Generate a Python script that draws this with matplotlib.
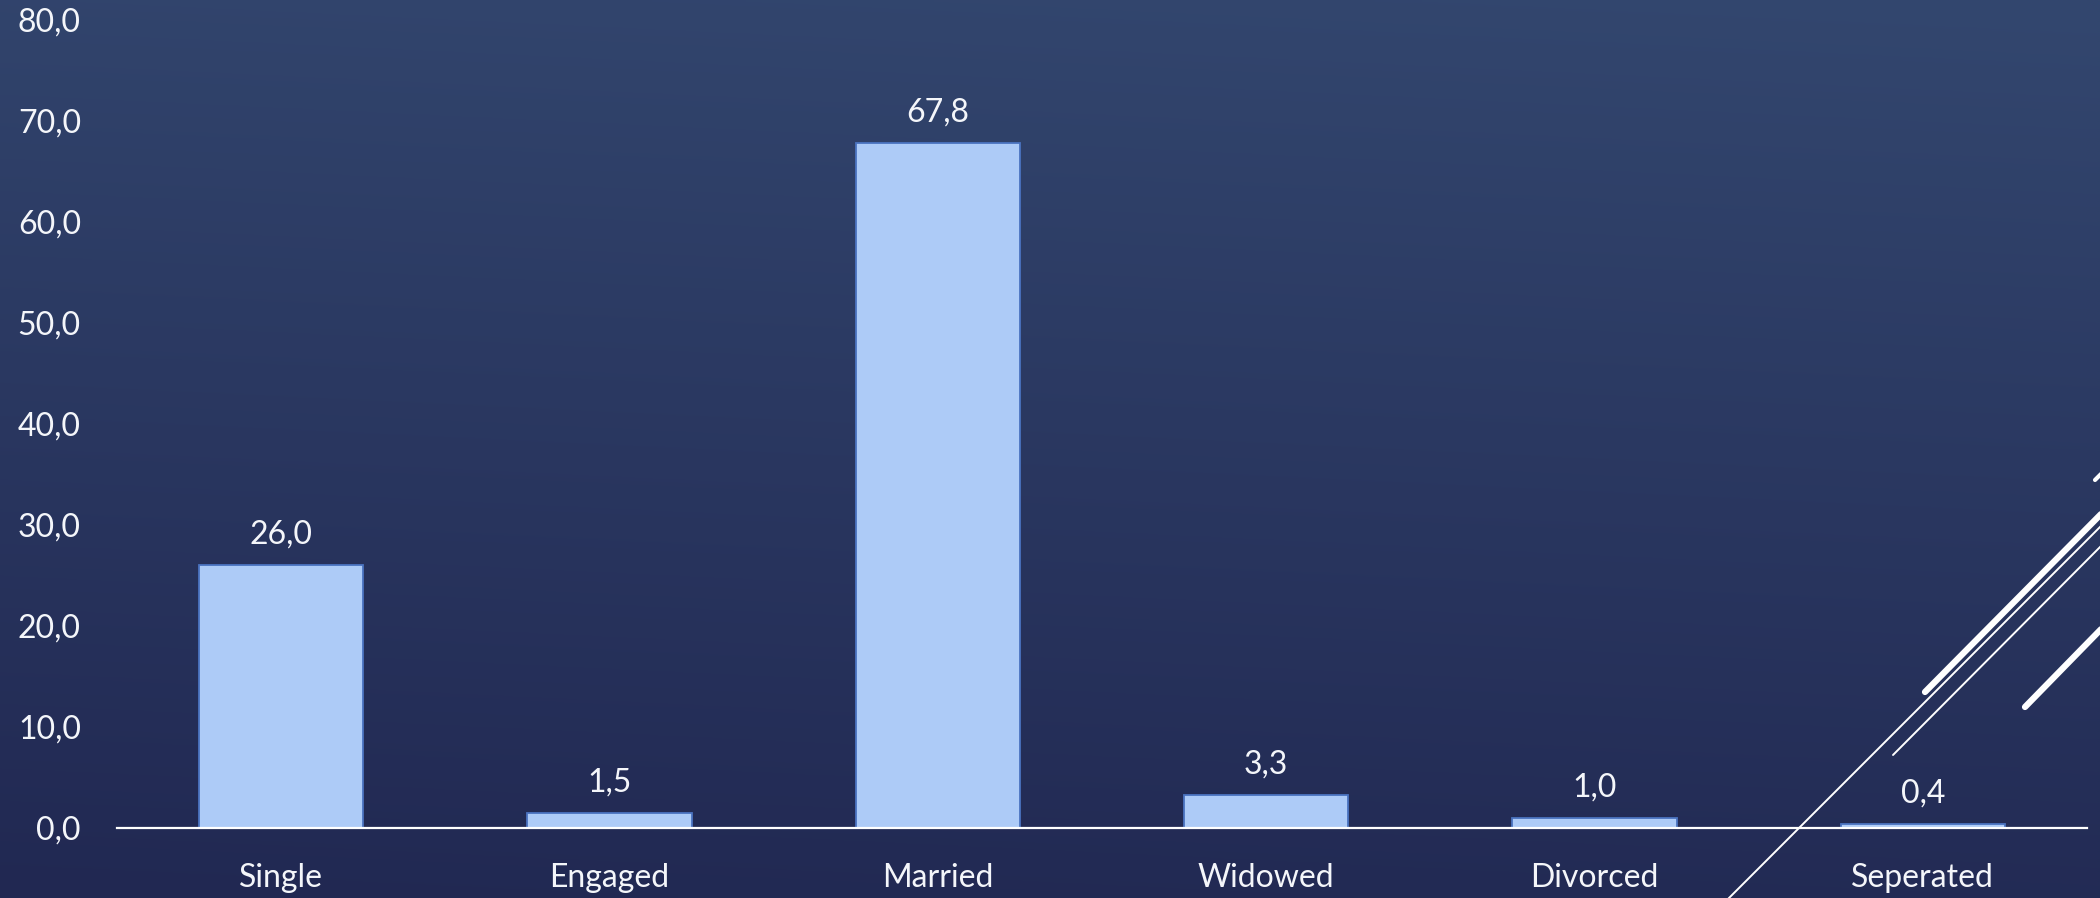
import numpy as np
import matplotlib
matplotlib.use("Agg")
import matplotlib.pyplot as plt
from matplotlib.lines import Line2D

categories = ["Single", "Engaged", "Married", "Widowed", "Divorced", "Seperated"]
values = [26.0, 1.5, 67.8, 3.3, 1.0, 0.4]
yticks = [0, 10, 20, 30, 40, 50, 60, 70, 80]

W, H = 2100, 898
fig = plt.figure(figsize=(W / 100, H / 100), dpi=100)

FONT = ["Lato", "DejaVu Sans"]
TXT = "#F4F6FA"
FS = 23

# background gradient
bg = fig.add_axes([0, 0, 1, 1], zorder=-10)
yy, xx = np.mgrid[0:1:300j, 0:1:600j]
t = yy * 0.9 + (1 - xx) * 0.1
top = np.array([0x33, 0x47, 0x6F]) / 255
bot = np.array([0x21, 0x28, 0x52]) / 255
img = top[None, None, :] * (1 - t[..., None]) + bot[None, None, :] * t[..., None]
bg.imshow(img, aspect="auto", extent=[0, 1, 0, 1], origin="upper")
bg.axis("off")

ax = fig.add_axes([117 / W, 1 - 828 / H, (2087 - 117) / W, (828 - 20) / H])
ax.patch.set_alpha(0)
x = np.arange(len(categories))
ax.bar(x, values, width=0.5, color="#ADCBF7", edgecolor="#4A73C0", linewidth=1.3, zorder=2)
ax.set_xlim(-0.5, len(categories) - 0.5)
ax.set_ylim(0, 80)
ax.set_yticks(yticks)
ax.set_yticklabels([f"{v:.1f}".replace(".", ",") for v in yticks])
ax.set_xticks(x)
ax.set_xticklabels(categories)
for s in ["top", "right", "left"]:
    ax.spines[s].set_visible(False)
ax.spines["bottom"].set_color("white")
ax.spines["bottom"].set_linewidth(1.6)
ax.spines["bottom"].set_zorder(3)
ax.tick_params(axis="both", length=0, colors=TXT, labelsize=FS)
ax.tick_params(axis="y", pad=26)
ax.tick_params(axis="x", pad=25)
for lab in ax.get_xticklabels() + ax.get_yticklabels():
    lab.set_family(FONT)
    lab.set_fontweight("normal")

for xi, v in zip(x, values):
    ax.annotate(f"{v:.1f}".replace(".", ","), (xi, v), xytext=(0, 22), textcoords="offset points",
                ha="center", va="center", color=TXT, fontsize=FS, family=FONT, fontweight="normal")

# decorative lines (pixel coords)
def deco(p1, p2, lw):
    (x1, y1), (x2, y2) = p1, p2
    fig.add_artist(Line2D([x1 / W, x2 / W], [1 - y1 / H, 1 - y2 / H], transform=fig.transFigure,
                          color="white", linewidth=lw, solid_capstyle="round", zorder=5))

deco((1720, 907), (2110, 517), 1.4)
deco((1893, 755), (2110, 537), 1.4)
deco((1925, 692), (2110, 505), 4.5)
deco((2025, 707), (2110, 620), 4.5)
deco((2095, 480), (2110, 465), 3.0)

fig.savefig("out.png", dpi=100)
